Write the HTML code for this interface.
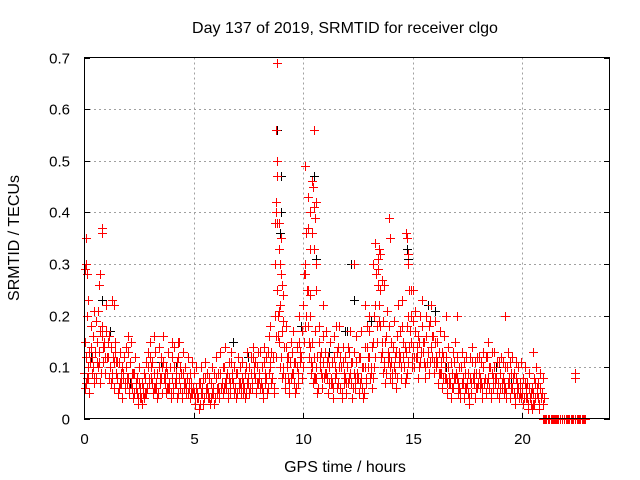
<!DOCTYPE html>
<html><head><meta charset="utf-8"><style>
html,body{margin:0;padding:0;background:#fff;}
svg{display:block;font-family:"Liberation Sans",sans-serif;}
</style></head><body>
<svg id="chart" width="640" height="480" viewBox="0 0 640 480" xmlns="http://www.w3.org/2000/svg">
<rect x="0" y="0" width="640" height="480" fill="#fff"/>
<text x="345" y="33" font-size="16" text-anchor="middle" fill="#000">Day 137 of 2019, SRMTID for receiver clgo</text>
<text x="345" y="472" font-size="16" text-anchor="middle" fill="#000">GPS time / hours</text>
<text x="0" y="0" font-size="16" text-anchor="middle" fill="#000" transform="translate(19,238) rotate(-90)">SRMTID / TECUs</text>
<g id="grid"></g>
<g id="ticks"></g>
<g id="black"></g>
<g id="red"></g>
<rect x="84.5" y="57.5" width="525" height="361" fill="none" stroke="#000" stroke-width="1"/>
</svg>
<script>
// values in hundredths of TECU, one per 0.1 h step starting at 0 h
const redMid = [9,12,8,14,10,13,15,11,16,14, 17,12,10,9,13,8,11,7,9,10, 8,11,6,9,5,7,4,6,8,10, 12,7,9,6,10,8,11,7,9,6, 8,10,7,12,6,9,7,8,6,7, 5,6,4,7,5,8,6,4,7,5, 8,6,9,7,10,6,8,11,7,6, 9,7,8,6,10,7,9,12,8,10, 9,6,11,8,13,10,8,20,25,15, 12,9,14,8,11,13,7,10,15,12, 22,30,18,14,10,12,8,15,9,11, 13,8,10,7,12,9,14,6,11,8, 10,13,7,9,11,8,12,6,10,14, 12,9,15,22,26,18,13,10,16,12, 11,14,9,16,12,18,10,13,20,15, 14,17,12,15,18,11,16,13,19,12, 15,11,13,9,12,8,10,7,9,11, 8,6,10,7,9,5,8,11,7,9, 9,7,10,8,12,6,9,10,8,7, 9,8,6,10,7,9,5,8,6,7, 5,7,4,6,3,5,7,4,6,5];
const redHigh = [15,20,13,18,16,19,21,17,18,15, 22,16,14,12,15,11,13,10,12,14, 13,15,9,12,8,10,7,9,11,13, 15,11,13,9,14,12,16,10,13,10, 12,14,11,15,9,13,10,12,9,11, 9,10,7,10,8,11,9,8,10,9, 12,9,13,10,14,9,11,13,10,9, 12,10,11,9,13,10,12,14,11,13, 13,10,14,12,16,13,12,30,38,22, 17,14,18,12,15,17,11,14,20,17, 28,36,25,20,15,17,12,18,13,16, 17,12,15,11,16,13,18,10,14,12, 14,17,11,13,16,12,17,10,14,18, 17,14,20,28,31,25,19,15,21,18, 15,19,13,22,17,23,14,18,25,20, 19,21,16,20,23,15,20,18,22,16, 19,15,17,13,16,12,14,11,13,15, 12,10,13,11,12,9,12,14,11,12, 12,11,13,12,15,10,13,13,11,11, 12,11,10,13,11,12,9,11,10,11, 8,10,7,9,6,8,10,7,9,8];
const redLow = [6,8,5,9,7,8,10,7,11,9, 12,8,7,6,9,5,7,4,6,7, 5,7,4,6,3,4,3,4,5,7, 8,5,6,4,7,5,8,5,6,4, 5,7,4,8,4,6,5,5,4,5, 3,4,2,5,3,5,4,3,5,3, 5,4,6,5,7,4,5,8,5,4, 6,5,5,4,7,5,6,9,5,7, 6,4,7,5,9,7,5,12,16,10, 8,6,10,5,8,9,5,7,11,8, 15,20,12,9,7,8,5,10,6,8, 9,5,7,4,8,6,10,4,7,5, 7,9,4,6,8,5,8,4,7,10, 8,6,10,15,19,12,9,7,11,8, 7,10,6,11,8,12,7,9,14,10, 10,12,8,11,13,8,11,9,14,9, 10,7,9,6,8,5,7,4,6,8, 5,4,7,4,6,3,5,8,4,6, 6,4,7,5,8,4,6,7,5,4, 6,5,4,7,4,6,3,5,4,4, 3,4,2,4,2,3,5,2,4,3];
const redExtra = [7,10,11,12,8,11,13,9,14,12, 15,10,8,11,11,6,9,8,7,8, 6,9,5,7,4,6,5,5,6,8, 10,6,7,5,8,10,9,6,7,5, 6,9,5,10,5,7,6,7,5,6, 4,5,3,6,4,6,5,4,6,4, 6,5,7,6,8,5,7,9,6,5, 7,6,7,5,8,6,7,10,7,8, 7,5,9,6,11,8,6,16,21,12, 10,8,12,7,9,11,6,9,13,10, 18,25,15,11,8,10,6,12,8,9, 11,7,8,6,10,7,12,5,9,7, 8,11,6,8,9,7,10,5,8,12, 10,8,12,18,22,15,11,9,13,10, 9,12,8,13,10,15,8,11,17,12, 12,14,10,13,15,10,13,11,16,11, 12,9,11,8,10,7,8,6,8,9, 7,5,8,6,7,4,7,9,6,7, 8,6,8,7,10,5,8,8,7,6, 7,7,5,8,6,8,4,7,5,6, 4,6,3,5,3,4,6,3,5,4];
const peakTimes = [0.1,0.05,0.1,0.15,0.2,0.8,0.8,0.75,0.7,0.45,1.3,1.35, 8.8,8.75,8.8,8.8,8.75,8.75,8.7,8.9,8.9,9.0,8.95,9.0,8.8,9.05,8.85,9.1,9.1, 10.1,10.2,10.4,10.45,10.5,10.3,10.5,10.55,10.6,10.4,10.2,10.3,10.5,10.6,10.1,10.3,10.6, 12.3,13.2,13.3,13.4,13.5,13.6,13.7,13.45,13.9,13.95,14.7,14.75,14.8,14.8,14.9,15.0, 10.9,11.5,8.5,16.5,17.0,19.2,20.5,22.4,22.4,12.8,13.0,2.0,3.2,4.3,4.0];
const peakValues = [0.35,0.29,0.30,0.28,0.23,0.37,0.36,0.28,0.26,0.21,0.23,0.22, 0.69,0.56,0.50,0.47,0.42,0.40,0.38,0.38,0.33,0.35,0.30,0.28,0.25,0.26,0.20,0.24,0.19, 0.49,0.43,0.46,0.45,0.56,0.40,0.41,0.39,0.42,0.36,0.37,0.33,0.33,0.30,0.28,0.24,0.25, 0.30,0.30,0.34,0.29,0.32,0.27,0.26,0.33,0.39,0.35,0.36,0.35,0.32,0.30,0.25,0.25, 0.22,0.18,0.18,0.20,0.20,0.20,0.13,0.09,0.08,0.22,0.20,0.16,0.16,0.15,0.15];
const zeroTimes = [20.95,21.0,21.05,21.1,21.15,21.2,21.3,21.35,21.4,21.45,21.5,21.55,21.6,21.65,21.7,21.8,21.9,22.0,22.05,22.1,22.15,22.2,22.25,22.3,22.4,22.5,22.55,22.6,22.65,22.7,22.75,22.8,22.85];
const blackTimes = [8.8,8.8,9.0,9.0,8.95,10.5,10.4,10.6,12.2,12.3,14.75,14.8,15.7,16.0,12.0,11.9,6.8,0.8,1.2,13.1,16.5,17.5,18.8,4.2,2.1,9.9,0.3,3.5,7.5,11.2,19.5,20.3];
const blackValues = [0.69,0.56,0.47,0.40,0.36,0.47,0.46,0.31,0.30,0.23,0.33,0.31,0.22,0.21,0.17,0.17,0.15,0.23,0.17,0.19,0.10,0.09,0.10,0.10,0.07,0.18,0.12,0.11,0.12,0.13,0.08,0.06];
const xTicks = [0,5,10,15,20];
const yTicks = [0,0.1,0.2,0.3,0.4,0.5,0.6,0.7];

const NS = "http://www.w3.org/2000/svg";
const X0 = 84, X1 = 610, XMAX = 24, Y0 = 419, Y1 = 57.5, YMAX = 0.7;
function xs(t){ return X0 + (X1 - X0) * t / XMAX; }
function ys(v){ return Y0 - (Y0 - Y1) * v / YMAX; }
const grid = document.getElementById('grid');
const ticks = document.getElementById('ticks');
function line(g, x1, y1, x2, y2, stroke, dash){
  const l = document.createElementNS(NS, 'line');
  l.setAttribute('x1', x1); l.setAttribute('y1', y1); l.setAttribute('x2', x2); l.setAttribute('y2', y2);
  l.setAttribute('stroke', stroke); l.setAttribute('stroke-width', 1);
  if (dash) l.setAttribute('stroke-dasharray', dash);
  g.appendChild(l); return l;
}
function txt(g, x, y, s, anchor){
  const t = document.createElementNS(NS, 'text');
  t.setAttribute('x', x); t.setAttribute('y', y); t.setAttribute('font-size', 15);
  t.setAttribute('text-anchor', anchor); t.setAttribute('fill', '#000');
  t.textContent = s; g.appendChild(t); return t;
}
xTicks.forEach(v => {
  const x = Math.round(xs(v)) + 0.5;
  if (v > 0) {
    const gl = line(grid, x, Y1, x, Y0, '#a0a0a0', '2,3');
    
    
  }
  const tk = line(ticks, x, Y0, x, Y0 - 6, '#000');
  
  
  const lb = txt(ticks, x, 444, String(v), 'middle');
  
  
});
yTicks.forEach(v => {
  const y = Math.round(ys(v)) + 0.5;
  if (v > 0 && v < 0.7) {
    const gl = line(grid, X0, y, X1, y, '#a0a0a0', '2,3');
    
    
  }
  const tk = line(ticks, X0, y, X0 + 6, y, '#000');
  
  
  const tk2 = line(ticks, X1, y, X1 - 6, y, '#000');
  
  
  const lb = txt(ticks, 70, y + 5, v === 0 ? '0' : v.toFixed(1), 'end');
  
  
});
function plus(g, t, v, color){
  const x = Math.round(xs(t)) + 0.5, y = Math.round(ys(v)) + 0.5;
  const p = document.createElementNS(NS, 'path');
  p.setAttribute('d', 'M' + (x - 4.5) + ' ' + y + 'H' + (x + 4.5) + 'M' + x + ' ' + (y - 4.5) + 'V' + (y + 4.5));
  p.setAttribute('stroke', color); p.setAttribute('stroke-width', 1); p.setAttribute('fill', 'none');
  p.setAttribute('shape-rendering', 'crispEdges');
  
  
  g.appendChild(p);
}
const gb = document.getElementById('black');
const gr = document.getElementById('red');
blackTimes.forEach((t, i) => plus(gb, t, blackValues[i], '#000'));
redMid.forEach((v, i) => plus(gr, i * 0.1, v / 100, '#f00'));
redHigh.forEach((v, i) => plus(gr, i * 0.1 + 0.025, v / 100, '#f00'));
redLow.forEach((v, i) => plus(gr, i * 0.1 + 0.05, v / 100, '#f00'));
redExtra.forEach((v, i) => plus(gr, i * 0.1 + 0.075, v / 100, '#f00'));
peakTimes.forEach((t, i) => plus(gr, t, peakValues[i], '#f00'));
zeroTimes.forEach(t => plus(gr, t, 0, '#f00'));
</script>
</body></html>
